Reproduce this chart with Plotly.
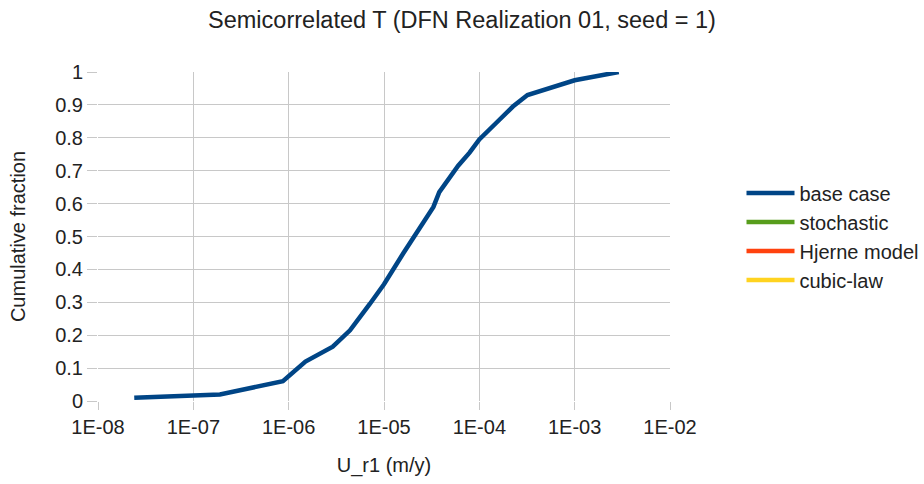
import plotly.graph_objects as go

# Data
u_base = [2.4e-8, 1.9e-7, 8.7e-7, 1.5e-6, 2.9e-6, 4.4e-6, 7.1e-6, 1.0e-5, 1.6e-5,
          2.4e-5, 3.3e-5, 3.8e-5, 4.9e-5, 6.0e-5, 7.9e-5, 1.0e-4, 1.5e-4, 2.25e-4,
          3.2e-4, 5.5e-4, 1.0e-3, 2.9e-3]
f_base = [0.01, 0.02, 0.06, 0.12, 0.165, 0.215, 0.295, 0.355, 0.45,
          0.53, 0.59, 0.635, 0.68, 0.715, 0.755, 0.795, 0.845, 0.895,
          0.93, 0.95, 0.975, 1.0]
series_names = ["base case", "stochastic", "Hjerne model", "cubic-law"]
series_colors = ["#004586", "#579d1c", "#ff420e", "#ffd320"]
x_tick_vals = [1e-8, 1e-7, 1e-6, 1e-5, 1e-4, 1e-3, 1e-2]
x_tick_text = ["1E-08", "1E-07", "1E-06", "1E-05", "1E-04", "1E-03", "1E-02"]
y_tick_vals = [0, 0.1, 0.2, 0.3, 0.4, 0.5, 0.6, 0.7, 0.8, 0.9, 1]
y_tick_text = ["0", "0.1", "0.2", "0.3", "0.4", "0.5", "0.6", "0.7", "0.8", "0.9", "1"]

FONT = "Liberation Sans, Arial, sans-serif"
TXT = "#222222"
GRID = "#c8c8c8"

fig = go.Figure()
fig.add_trace(go.Scatter(x=u_base, y=f_base, mode="lines", name=series_names[0],
                         line=dict(color=series_colors[0], width=4.5)))
for name, col in zip(series_names[1:], series_colors[1:]):
    fig.add_trace(go.Scatter(x=[None], y=[None], mode="lines", name=name,
                             line=dict(color=col, width=4.5)))

fig.update_layout(
    width=924, height=484,
    margin=dict(l=98, r=254, t=72, b=83, autoexpand=False),
    paper_bgcolor="white", plot_bgcolor="white",
    font=dict(family=FONT, size=20, color=TXT),
    title=dict(text="Semicorrelated T (DFN Realization 01, seed = 1)",
               x=0.5, xanchor="center", y=0.96, yanchor="middle",
               font=dict(size=23.5, color=TXT)),
    legend=dict(x=1.125, y=0.5, xanchor="left", yanchor="middle",
                font=dict(size=20, color=TXT), itemwidth=48,
                bgcolor="rgba(0,0,0,0)", tracegroupgap=0),
    showlegend=True,
)
fig.update_xaxes(type="log", range=[-8, -2], tickvals=x_tick_vals, ticktext=x_tick_text,
                 showgrid=True, gridcolor=GRID, gridwidth=1, zeroline=False,
                 ticks="outside", ticklen=8, tickcolor=GRID, showline=False,
                 title=dict(text="U_r1 (m/y)", font=dict(size=20), standoff=20),
                 tickfont=dict(size=20))
fig.update_yaxes(range=[0, 1], tickvals=y_tick_vals, ticktext=y_tick_text,
                 showgrid=True, gridcolor=GRID, gridwidth=1, zeroline=False,
                 ticks="outside", ticklen=10, tickcolor=GRID, showline=False,
                 title=dict(text="Cumulative fraction", font=dict(size=20), standoff=24),
                 tickfont=dict(size=20))

fig.write_html("out.html")
